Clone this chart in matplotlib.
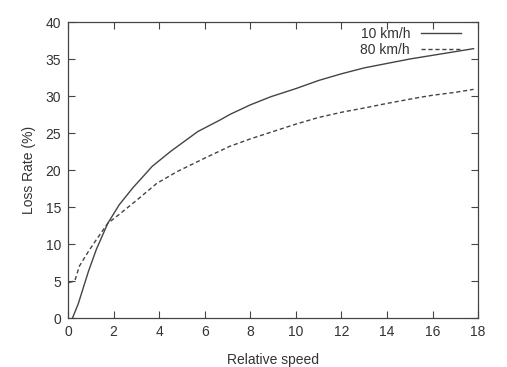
import matplotlib
matplotlib.use('Agg')
import matplotlib.pyplot as plt

# values
speed_10 = [0.2, 0.45, 0.9, 1.25, 1.75, 2.25, 2.85, 3.7, 4.5, 5.7, 6.7, 7.1, 8.0, 8.9, 10.0, 11.0,
            12.0, 13.0, 14.0, 15.0, 16.0, 17.0, 17.8]
loss_10 = [0.0, 1.9, 6.3, 9.3, 12.8, 15.3, 17.6, 20.5, 22.5, 25.2, 26.8, 27.5, 28.8, 29.9, 31.0, 32.1,
           33.0, 33.8, 34.4, 35.0, 35.5, 36.0, 36.4]

speed_80 = [0.05, 0.3, 0.5, 0.9, 1.25, 1.75, 2.25, 3.05, 3.9, 4.8, 6.0, 7.1, 8.0, 8.9, 10.0, 11.0,
            12.0, 13.2, 14.0, 15.4, 16.0, 17.0, 17.8]
loss_80 = [4.8, 5.0, 7.0, 9.0, 10.6, 12.8, 14.0, 16.0, 18.2, 19.8, 21.6, 23.2, 24.2, 25.1, 26.2, 27.1,
           27.8, 28.5, 29.0, 29.8, 30.1, 30.5, 30.9]

plt.rcParams['font.family'] = ['Liberation Sans', 'DejaVu Sans']
plt.rcParams['font.size'] = 10
txt = '#333333'
ink = '#444444'

fig = plt.figure(figsize=(5.07, 3.67), dpi=100)
ax = fig.add_axes([0.134, 0.1335, 0.809, 0.8065])

ax.plot(speed_10, loss_10, color=ink, lw=1.0, ls='-', label='10 km/h')
ax.plot(speed_80, loss_80, color=ink, lw=1.0, ls=(0, (3, 2)), label='80 km/h')

ax.set_xlim(0, 18)
ax.set_ylim(0, 40)
ax.set_xticks(range(0, 19, 2))
ax.set_yticks(range(0, 41, 5))
ax.tick_params(direction='in', top=True, right=True, length=5, colors=ink, labelcolor=txt, pad=5)
for s in ax.spines.values():
    s.set_color(ink)
    s.set_linewidth(0.9)

ax.set_xlabel('Relative speed', color=txt, labelpad=10)
ax.set_ylabel('Loss Rate (%)', color=txt, labelpad=7)

ax.legend(loc='upper right', bbox_to_anchor=(0.99, 1.025), frameon=False, markerfirst=False,
          handlelength=2.9, labelspacing=0.1, borderaxespad=0.5, handletextpad=0.8,
          labelcolor=txt)

fig.savefig('out.png', dpi=100)
